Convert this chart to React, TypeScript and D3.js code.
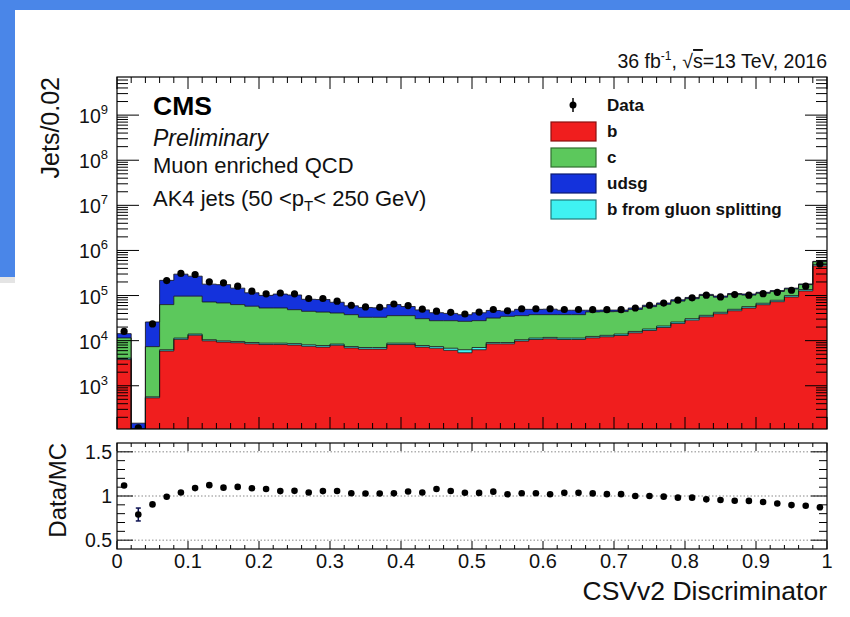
import React from 'react';
import * as d3 from 'd3';

// CSVv2 discriminator histogram, 50 bins of width 0.02
const binEdges = d3.range(51).map(i => +(i * 0.02).toFixed(2));

const bJets = [
  3800, 0, 540, 5900, 10700, 13200, 9900, 9300, 9000, 8500,
  8200, 8200, 8000, 7500, 7200, 7900, 6900, 6500, 6500, 8200,
  8200, 7200, 6800, 6100, 5400, 6300, 8500, 8500, 9800, 10600,
  11000, 10600, 10600, 11550, 12200, 13000, 14900, 16800, 19600, 24100,
  28500, 33800, 39500, 46000, 52800, 62700, 73100, 92800, 126500, 455000,
];
const bGluonSplit = [
  300, 0, 30, 400, 700, 800, 600, 600, 600, 600,
  600, 600, 600, 600, 600, 500, 500, 550, 550, 600,
  600, 600, 600, 700, 900, 750, 600, 600, 700, 800,
  800, 800, 800, 850, 900, 1000, 1100, 1300, 1500, 1800,
  2200, 2600, 3000, 3500, 4000, 4700, 5500, 7000, 9500, 35000,
];
const cJets = [
  7400, 0, 6800, 56700, 85600, 83000, 61500, 58600, 53400, 48900,
  44200, 44200, 40000, 36600, 35200, 32600, 30300, 25900, 25900, 27000,
  27000, 22900, 20300, 20900, 20500, 20700, 22600, 25500, 25300, 26300,
  25900, 26300, 26300, 30900, 30800, 30100, 33200, 38700, 42900, 49600,
  54600, 63800, 49400, 55500, 45600, 44800, 44400, 40000, 38500, 71000,
];
const udsgJets = [
  2800, 148, 18600, 154000, 201000, 172000, 107000, 106000, 83000, 57000,
  48000, 55000, 54400, 38000, 38500, 30000, 21500, 21500, 20500, 27300,
  21300, 17400, 14000, 12500, 10800, 13800, 15000, 10500, 13700, 11800,
  12300, 9600, 9600, 4000, 3800, 3600, 3800, 4200, 4500, 5000,
  5400, 5800, 5500, 6000, 5600, 5800, 6000, 6200, 6500, 12000,
];
const dataJets = [
  16000, 117, 23500, 215000, 310000, 293000, 201000, 191000, 161000, 125000,
  109000, 114000, 109000, 86000, 86000, 75000, 61000, 56000, 55000, 65000,
  60000, 50000, 45000, 42500, 39000, 43000, 49000, 46000, 51000, 51000,
  51000, 49000, 49000, 48700, 48700, 48700, 53000, 61000, 68000, 79000,
  89000, 102000, 93000, 105000, 102000, 110000, 118000, 131000, 161000, 500000,
];

const xTickLabels = ['0', '0.1', '0.2', '0.3', '0.4', '0.5', '0.6', '0.7', '0.8', '0.9', '1'];
const yDecades = [3, 4, 5, 6, 7, 8, 9];
const ratioTicks = [0.5, 1, 1.5];

const legendItems = [
  { label: 'b', fill: '#f01e1e', stroke: '#8a1010' },
  { label: 'c', fill: '#5cc85c', stroke: '#2f6e2f' },
  { label: 'udsg', fill: '#1432dc', stroke: '#0a1a70' },
  { label: 'b from gluon splitting', fill: '#3ff2f2', stroke: '#1f7a7a' },
];

const FONT = "'Liberation Sans', Arial, Helvetica, sans-serif";

export default function App() {
  const left = 117, right = 827;
  const top = 77, bottom = 429;
  const rTop = 443, rBottom = 549;

  const x = d3.scaleLinear().domain([0, 1]).range([left, right]);
  const y = d3.scaleLog().domain([110, 7e9]).range([bottom, top]);
  const yr = d3.scaleLinear().domain([0.4, 1.6]).range([rBottom, rTop]);
  const yMin = y.domain()[0];
  const yPos = (v: number) => (v > yMin ? y(v) : bottom);

  const rows = bJets.map((_, i) => ({
    b: bJets[i], bg: bGluonSplit[i], c: cJets[i], udsg: udsgJets[i],
  }));
  const stack = d3.stack<any>().keys(['b', 'bg', 'c', 'udsg'])(rows);
  const fills: Record<string, string> = {
    b: '#f01e1e', bg: '#3ff2f2', c: '#5cc85c', udsg: '#1432dc',
  };

  const totals = rows.map(r => r.b + r.bg + r.c + r.udsg);
  const ratio = dataJets.map((d, i) => d / totals[i]);

  // step-shaped area for one stack layer
  const layerArea = (layer: any[]) => {
    let d = '';
    layer.forEach((seg, i) => {
      const yy = yPos(seg[1]);
      d += `${i === 0 ? 'M' : 'L'}${x(binEdges[i])},${yy}L${x(binEdges[i + 1])},${yy}`;
    });
    for (let i = layer.length - 1; i >= 0; i--) {
      const yy = yPos(layer[i][0]);
      d += `L${x(binEdges[i + 1])},${yy}L${x(binEdges[i])},${yy}`;
    }
    return d + 'Z';
  };
  const layerTop = (layer: any[]) => {
    let d = '';
    layer.forEach((seg, i) => {
      const yy = yPos(seg[1]);
      d += `${i === 0 ? 'M' : 'L'}${x(binEdges[i])},${yy}L${x(binEdges[i + 1])},${yy}`;
    });
    return d;
  };

  const xMajor = d3.range(11).map(i => i / 10);
  const xMinor = binEdges.filter((_, i) => i % 5 !== 0);
  const yMajor = [2, ...yDecades].map(k => Math.pow(10, k)).filter(v => v >= yMin && v <= 7e9);
  const yMinor: number[] = [];
  for (let k = 2; k <= 9; k++) {
    for (let m = 2; m <= 9; m++) {
      const v = m * Math.pow(10, k);
      if (v > yMin && v < 7e9) yMinor.push(v);
    }
  }
  const rMinor = d3.range(5, 16).map(i => i / 10).filter(v => !ratioTicks.includes(v));

  return (
    <div style={{ position: 'absolute', left: 0, top: 0 }}>
      <svg width={850} height={617} style={{ display: 'block', background: '#fff', fontFamily: FONT }}>
        {/* slide frame */}
        <rect x={0} y={0} width={850} height={10} fill="#4a86e8" />
        <rect x={0} y={0} width={15} height={277} fill="#4a86e8" />
        <rect x={0} y={277} width={15} height={6} fill="#e4e4e4" />

        <defs>
          <clipPath id="mainClip">
            <rect x={left} y={top} width={right - left} height={bottom - top} />
          </clipPath>
        </defs>

        {/* stacked histogram */}
        <g clipPath="url(#mainClip)">
          {stack.map(layer => (
            <path key={layer.key} d={layerArea(layer)} fill={fills[layer.key]} />
          ))}
          {stack.map(layer => (
            <path key={'o' + layer.key} d={layerTop(layer)} fill="none" stroke="#111" strokeWidth={1} strokeOpacity={0.8} />
          ))}
          {/* data */}
          {dataJets.map((d, i) => {
            const cx = (x(binEdges[i]) + x(binEdges[i + 1])) / 2;
            const e = Math.sqrt(d);
            return (
              <g key={'d' + i}>
                <line x1={cx} x2={cx} y1={yPos(d - e)} y2={y(d + e)} stroke="#000" strokeWidth={1.5} />
                <circle cx={cx} cy={y(d)} r={3.6} fill="#000" />
              </g>
            );
          })}
        </g>

        {/* main frame and ticks */}
        <rect x={left} y={top} width={right - left} height={bottom - top} fill="none" stroke="#000" strokeWidth={1.2} />
        {xMajor.map(v => (
          <g key={'xM' + v} stroke="#000" strokeWidth={1}>
            <line x1={x(v)} x2={x(v)} y1={bottom} y2={bottom - 12} />
            <line x1={x(v)} x2={x(v)} y1={top} y2={top + 12} />
          </g>
        ))}
        {xMinor.map(v => (
          <g key={'xm' + v} stroke="#000" strokeWidth={1}>
            <line x1={x(v)} x2={x(v)} y1={bottom} y2={bottom - 6} />
            <line x1={x(v)} x2={x(v)} y1={top} y2={top + 6} />
          </g>
        ))}
        {yMajor.map(v => (
          <g key={'yM' + v} stroke="#000" strokeWidth={1}>
            <line x1={left} x2={left + 22} y1={y(v)} y2={y(v)} />
            <line x1={right} x2={right - 22} y1={y(v)} y2={y(v)} />
          </g>
        ))}
        {yMinor.map(v => (
          <g key={'ym' + v} stroke="#000" strokeWidth={1}>
            <line x1={left} x2={left + 11} y1={y(v)} y2={y(v)} />
            <line x1={right} x2={right - 11} y1={y(v)} y2={y(v)} />
          </g>
        ))}
        {yDecades.map(k => (
          <text key={'yl' + k} x={108} y={y(Math.pow(10, k)) + 8} textAnchor="end" fontSize={19.5} fill="#111">
            <tspan>10</tspan>
            <tspan dy={-9} fontSize={13}>{k}</tspan>
          </text>
        ))}
        <text transform={`translate(59,${top}) rotate(-90)`} textAnchor="end" fontSize={25} fill="#111">Jets/0.02</text>

        {/* labels inside */}
        <text x={153} y={115} fontSize={26.5} fontWeight="bold" fill="#000">CMS</text>
        <text x={153} y={146} fontSize={23} fontStyle="italic" fill="#111">Preliminary</text>
        <text x={153} y={173} fontSize={22} fill="#111">Muon enriched QCD</text>
        <text x={153} y={206} fontSize={22} fill="#111">
          AK4 jets (50 &lt;p<tspan fontSize={15} dy={5}>T</tspan><tspan dy={-5}>&lt; 250 GeV)</tspan>
        </text>
        <text x={right} y={68} textAnchor="end" fontSize={19.5} fill="#111">
          36 fb<tspan fontSize={12} dy={-8}>-1</tspan><tspan dy={8}>, √</tspan><tspan textDecoration="overline">s</tspan>=13 TeV, 2016
        </text>

        {/* legend */}
        <line x1={573} x2={573} y1={98} y2={112} stroke="#000" strokeWidth={1.5} />
        <circle cx={573} cy={105} r={3.5} fill="#000" />
        <text x={607} y={111} fontSize={17} fontWeight="bold" fill="#111">Data</text>
        {legendItems.map((it, i) => (
          <g key={it.label}>
            <rect x={551} y={122 + i * 26} width={45} height={19} fill={it.fill} stroke={it.stroke} strokeWidth={1.2} />
            <text x={607} y={137 + i * 26} fontSize={17} fontWeight="bold" fill="#111">{it.label}</text>
          </g>
        ))}

        {/* ratio panel */}
        {ratioTicks.map(v => (
          <line key={'g' + v} x1={left} x2={right} y1={yr(v)} y2={yr(v)} stroke="#888" strokeWidth={1} strokeDasharray="1.5,2" />
        ))}
        {ratio.map((r, i) => {
          const cx = (x(binEdges[i]) + x(binEdges[i + 1])) / 2;
          const e = r / Math.sqrt(dataJets[i]);
          return (
            <g key={'r' + i}>
              {e * 88 > 4 && (
                <g stroke="#0b1050" strokeWidth={1.5}>
                  <line x1={cx} x2={cx} y1={yr(r - e)} y2={yr(r + e)} />
                  <line x1={cx - 2.5} x2={cx + 2.5} y1={yr(r - e)} y2={yr(r - e)} />
                  <line x1={cx - 2.5} x2={cx + 2.5} y1={yr(r + e)} y2={yr(r + e)} />
                </g>
              )}
              <circle cx={cx} cy={yr(r)} r={3.3} fill="#000" />
            </g>
          );
        })}
        <rect x={left} y={rTop} width={right - left} height={rBottom - rTop} fill="none" stroke="#000" strokeWidth={1.2} />
        {xMajor.map(v => (
          <g key={'rxM' + v} stroke="#000" strokeWidth={1}>
            <line x1={x(v)} x2={x(v)} y1={rBottom} y2={rBottom - 8} />
            <line x1={x(v)} x2={x(v)} y1={rTop} y2={rTop + 8} />
          </g>
        ))}
        {xMinor.map(v => (
          <g key={'rxm' + v} stroke="#000" strokeWidth={1}>
            <line x1={x(v)} x2={x(v)} y1={rBottom} y2={rBottom - 4} />
            <line x1={x(v)} x2={x(v)} y1={rTop} y2={rTop + 4} />
          </g>
        ))}
        {ratioTicks.map(v => (
          <g key={'ryM' + v} stroke="#000" strokeWidth={1}>
            <line x1={left} x2={left + 16} y1={yr(v)} y2={yr(v)} />
            <line x1={right} x2={right - 16} y1={yr(v)} y2={yr(v)} />
          </g>
        ))}
        {rMinor.map(v => (
          <g key={'rym' + v} stroke="#000" strokeWidth={1}>
            <line x1={left} x2={left + 8} y1={yr(v)} y2={yr(v)} />
            <line x1={right} x2={right - 8} y1={yr(v)} y2={yr(v)} />
          </g>
        ))}
        {ratioTicks.map(v => (
          <text key={'rl' + v} x={112} y={yr(v) + 7} textAnchor="end" fontSize={19.5} fill="#111">{String(v)}</text>
        ))}
        <text transform={`translate(66,${rTop}) rotate(-90)`} textAnchor="end" fontSize={24} fill="#111">Data/MC</text>

        {xTickLabels.map((t, i) => (
          <text key={'xl' + t} x={x(xMajor[i])} y={568} textAnchor="middle" fontSize={20} fill="#111">{t}</text>
        ))}
        <text x={right} y={600} textAnchor="end" fontSize={26.5} fill="#111">CSVv2 Discriminator</text>
      </svg>
    </div>
  );
}
